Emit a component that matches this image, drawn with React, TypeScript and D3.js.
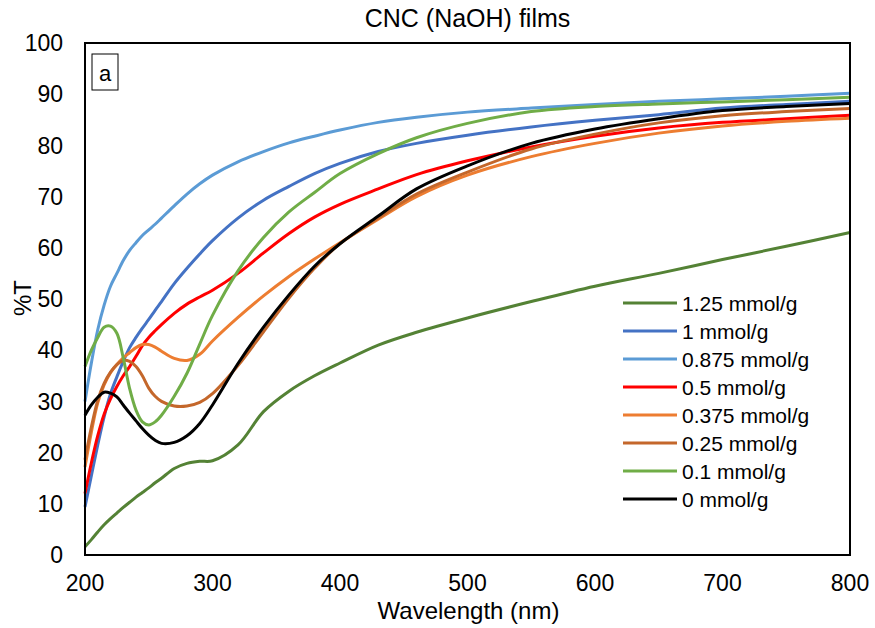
import React, { useEffect, useRef } from 'react';
import * as d3 from 'd3';

const wavelengths = [200, 205, 210, 215, 220, 225, 230, 235, 240, 245, 250, 255, 260, 270, 280, 290, 300, 320, 340, 360, 380, 400, 430, 460, 500, 550, 600, 650, 700, 750, 800];

const s125 = [1.6, 3, 4.5, 5.9, 7.1, 8.2, 9.3, 10.3, 11.3, 12.2, 13.1, 14.1, 15, 16.9, 17.9, 18.3, 18.4, 21.5, 28, 32, 35, 37.5, 41, 43.5, 46.3, 49.5, 52.5, 55, 57.7, 60.3, 63];
const s1 = [9.4, 15.5, 21.5, 27, 31.5, 34.8, 37.8, 40.5, 42.5, 44.3, 46, 47.8, 49.5, 53, 56, 58.8, 61.4, 65.8, 69.3, 72, 74.5, 76.5, 78.8, 80.4, 82, 83.6, 84.9, 86, 87.3, 88, 88.6];
const s0875 = [30, 37.5, 44, 48.8, 52.5, 55, 57.5, 59.5, 61, 62.4, 63.5, 64.6, 65.8, 68.2, 70.5, 72.5, 74.2, 76.8, 78.8, 80.5, 81.8, 83, 84.5, 85.5, 86.5, 87.3, 88, 88.6, 89.1, 89.6, 90.2];
const s05 = [12, 18, 23.3, 27.5, 30.5, 32.9, 35, 36.8, 38.8, 40.9, 42.5, 43.8, 45, 47.2, 49, 50.4, 51.7, 55, 59, 62.8, 66, 68.5, 71.5, 74.3, 77, 79.7, 81.8, 83.4, 84.5, 85.2, 85.9];
const s0375 = [17.2, 24, 29.7, 33.2, 35.6, 37.2, 38.5, 39.5, 40.5, 41.1, 41.1, 40.6, 39.8, 38.4, 38, 39.2, 41.8, 46.4, 50.6, 54.4, 57.8, 61, 65.6, 70, 74.2, 77.8, 80.4, 82.4, 83.8, 84.7, 85.3];
const s025 = [18.6, 25, 30.2, 33.5, 35.7, 37.2, 38, 37.8, 36.8, 35, 32.6, 31, 30, 29.1, 29.1, 29.8, 31.5, 37, 43.6, 50.2, 56, 60.8, 65.8, 70.5, 74.8, 79.3, 82.2, 84.4, 85.8, 86.6, 87.2];
const s01 = [36.8, 40, 42.5, 44.5, 44.7, 43.3, 38.5, 32.5, 28.3, 26, 25.4, 26, 27.3, 31, 35.5, 41.2, 46.8, 55.5, 62, 67, 70.8, 74.5, 78.4, 81.5, 84.3, 86.6, 87.6, 88.1, 88.5, 88.9, 89.4];
const s0 = [27.3, 29.3, 30.8, 31.8, 31.6, 30.9, 29.3, 27.7, 26.2, 24.7, 23.4, 22.4, 21.8, 22, 23.3, 25.7, 29.3, 37.4, 44.5, 50.8, 56.4, 60.8, 66.2, 71.5, 76, 80.4, 83.2, 85.2, 86.8, 87.6, 88.2];

const seriesNames = ['1.25 mmol/g', '1 mmol/g', '0.875 mmol/g', '0.5 mmol/g', '0.375 mmol/g', '0.25 mmol/g', '0.1 mmol/g', '0 mmol/g'];
const seriesValues = [s125, s1, s0875, s05, s0375, s025, s01, s0];
const seriesColors = ['#548235', '#4472C4', '#5B9BD5', '#FF0000', '#ED7D31', '#C4672B', '#70AD47', '#000000'];

const xTicks = [200, 300, 400, 500, 600, 700, 800];
const yTicks = [0, 10, 20, 30, 40, 50, 60, 70, 80, 90, 100];

const FONT = 'Liberation Sans, Arial, sans-serif';

function App() {
  const ref = useRef<SVGSVGElement>(null);

  useEffect(() => {
    const svg = d3.select(ref.current);
    svg.selectAll('*').remove();
    const width = 875, height = 628;
    const left = 85, right = 850, top = 43, bottom = 555;

    const x = d3.scaleLinear().domain([200, 800]).range([left, right]);
    const y = d3.scaleLinear().domain([0, 100]).range([bottom, top]);

    svg.append('rect').attr('width', width).attr('height', height).attr('fill', '#fff');

    // title
    svg.append('text')
      .attr('x', (left + right) / 2).attr('y', 27)
      .attr('text-anchor', 'middle')
      .style('font-family', FONT).style('font-size', '25px')
      .text('CNC (NaOH) films');

    // lines
    const line = d3.line<number>()
      .x((_, i) => x(wavelengths[i]))
      .y(d => y(d))
      .curve(d3.curveCatmullRom.alpha(0.5));

    seriesValues.forEach((vals, k) => {
      svg.append('path')
        .attr('d', line(vals))
        .attr('fill', 'none')
        .attr('stroke', seriesColors[k])
        .attr('stroke-width', 3)
        .attr('stroke-linejoin', 'round');
    });

    // plot border
    svg.append('rect')
      .attr('x', left).attr('y', top)
      .attr('width', right - left).attr('height', bottom - top)
      .attr('fill', 'none').attr('stroke', '#000').attr('stroke-width', 2);

    // y ticks
    svg.append('g').selectAll('text').data(yTicks).join('text')
      .attr('x', 63).attr('y', d => y(d))
      .attr('dy', '0.36em')
      .attr('text-anchor', 'end')
      .style('font-family', FONT).style('font-size', '23px')
      .text(d => d);

    // x ticks
    svg.append('g').selectAll('text').data(xTicks).join('text')
      .attr('x', d => x(d)).attr('y', 591)
      .attr('text-anchor', 'middle')
      .style('font-family', FONT).style('font-size', '23px')
      .text(d => d);

    // axis titles
    svg.append('text')
      .attr('x', (left + right) / 2 + 1).attr('y', 619)
      .attr('text-anchor', 'middle')
      .style('font-family', FONT).style('font-size', '24px')
      .text('Wavelength (nm)');

    svg.append('text')
      .attr('transform', `translate(31, 298) rotate(-90)`)
      .attr('text-anchor', 'middle')
      .style('font-family', FONT).style('font-size', '24px')
      .text('%T');

    // panel label
    svg.append('rect')
      .attr('x', 92).attr('y', 54).attr('width', 26).attr('height', 36)
      .attr('fill', '#fff').attr('stroke', '#000').attr('stroke-width', 1);
    svg.append('text')
      .attr('x', 105).attr('y', 81)
      .attr('text-anchor', 'middle')
      .style('font-family', FONT).style('font-size', '22px')
      .text('a');

    // legend
    const legend = svg.append('g');
    seriesNames.forEach((name, k) => {
      const ly = 303 + k * 28;
      legend.append('line')
        .attr('x1', 623).attr('x2', 677).attr('y1', ly).attr('y2', ly)
        .attr('stroke', seriesColors[k]).attr('stroke-width', 3);
      legend.append('text')
        .attr('x', 682).attr('y', ly).attr('dy', '0.36em')
        .style('font-family', FONT).style('font-size', '21px')
        .text(name);
    });
  }, []);

  return (
    <svg ref={ref} width={875} height={628} style={{ position: 'absolute', left: 0, top: 0 }}></svg>
  );
}

export default App;
